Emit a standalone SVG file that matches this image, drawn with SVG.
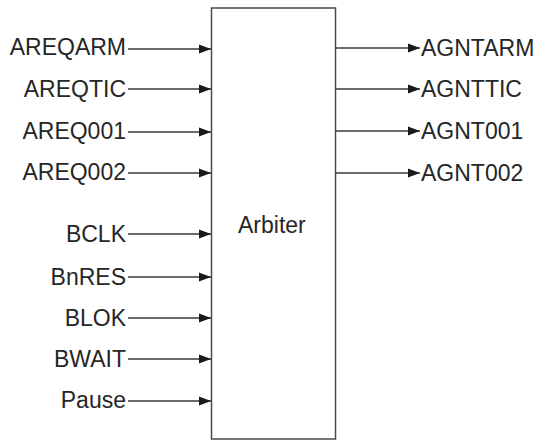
<svg xmlns="http://www.w3.org/2000/svg" width="537" height="441" viewBox="0 0 537 441">
<style>
.t{font-family:"Liberation Sans",Arial,sans-serif;font-size:23px;fill:#262626}
.in{text-anchor:end}
.c{stroke:#3a3a3a;stroke-width:1.5;fill:none}
.box{fill:#fff;stroke:#4a4a4a;stroke-width:1.5}
</style>
<defs>
<marker id="ah" markerUnits="userSpaceOnUse" markerWidth="12" markerHeight="10" refX="12" refY="5" orient="auto">
<path d="M0,0.5 L12,5 L0,9.5 Z" fill="#1a1a1a"/>
</marker>
</defs>
<rect width="537" height="441" fill="#fff"/>
<g id="arbiter">
<rect class="box" x="211.5" y="8" width="124" height="431"/>
<text class="t" x="238" y="233">Arbiter</text>
</g>
<g id="connectors">
<line class="c" x1="128" y1="49" x2="211" y2="49" marker-end="url(#ah)"/>
<line class="c" x1="128" y1="89" x2="211" y2="89" marker-end="url(#ah)"/>
<line class="c" x1="128" y1="132" x2="211" y2="132" marker-end="url(#ah)"/>
<line class="c" x1="128" y1="173" x2="211" y2="173" marker-end="url(#ah)"/>
<line class="c" x1="128" y1="234" x2="211" y2="234" marker-end="url(#ah)"/>
<line class="c" x1="128" y1="277" x2="211" y2="277" marker-end="url(#ah)"/>
<line class="c" x1="128" y1="318" x2="211" y2="318" marker-end="url(#ah)"/>
<line class="c" x1="128" y1="359" x2="211" y2="359" marker-end="url(#ah)"/>
<line class="c" x1="128" y1="401" x2="211" y2="401" marker-end="url(#ah)"/>
<line class="c" x1="336" y1="48" x2="420" y2="48" marker-end="url(#ah)"/>
<line class="c" x1="336" y1="89" x2="420" y2="89" marker-end="url(#ah)"/>
<line class="c" x1="336" y1="131" x2="420" y2="131" marker-end="url(#ah)"/>
<line class="c" x1="336" y1="173" x2="420" y2="173" marker-end="url(#ah)"/>
</g>
<g id="inputs">
<text class="t in" x="126" y="55">AREQARM</text>
<text class="t in" x="126" y="97">AREQTIC</text>
<text class="t in" x="126" y="139">AREQ001</text>
<text class="t in" x="126" y="180">AREQ002</text>
<text class="t in" x="126" y="242">BCLK</text>
<text class="t in" x="126" y="285">BnRES</text>
<text class="t in" x="126" y="326">BLOK</text>
<text class="t in" x="126" y="367">BWAIT</text>
<text class="t in" x="126" y="408">Pause</text>
</g>
<g id="outputs">
<text class="t" x="421" y="56">AGNTARM</text>
<text class="t" x="421" y="97">AGNTTIC</text>
<text class="t" x="421" y="139">AGNT001</text>
<text class="t" x="421" y="181">AGNT002</text>
</g>
</svg>
